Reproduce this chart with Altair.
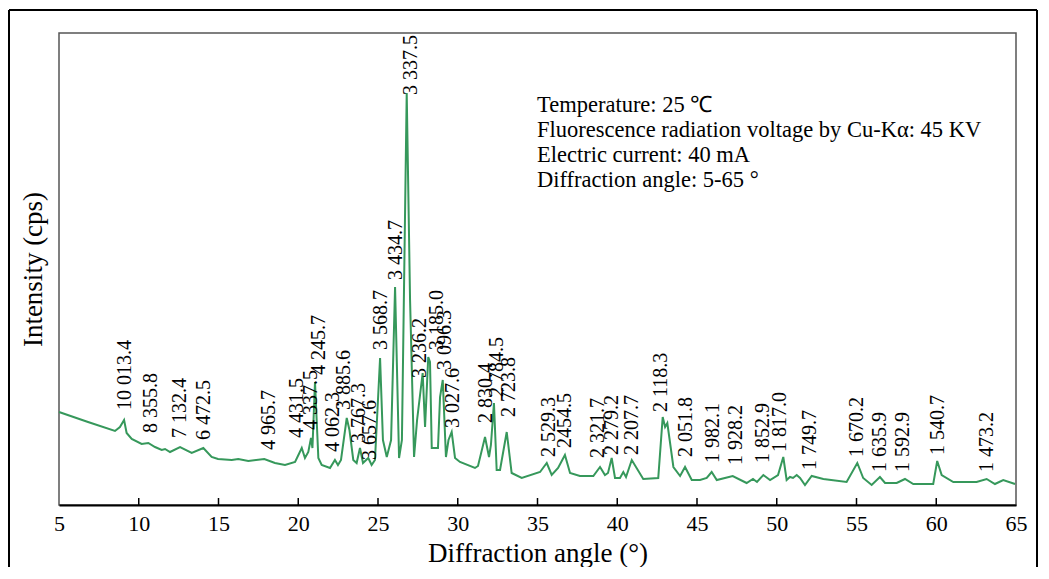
import altair as alt
import pandas as pd

# ---- XRD trace (diffraction angle in degrees, intensity in arbitrary cps units) ----
angle = [5.00, 6.82, 8.51, 8.82, 9.08, 9.24, 9.56, 10.18, 10.60, 11.02, 11.44, 11.65, 11.96,
         12.59, 13.32, 14.05, 14.57, 14.97, 15.83, 16.24, 16.87, 17.87, 18.54, 19.17, 19.80,
         20.22, 20.42, 20.63, 20.80, 20.89, 21.05, 21.26, 21.47, 21.99, 22.30, 22.49, 22.68,
         23.04, 23.21, 23.45, 23.66, 23.87, 24.06, 24.39, 24.60, 24.81, 25.13, 25.31, 25.55,
         25.82, 26.07, 26.32, 26.50, 26.80, 27.01, 27.26, 27.45, 27.80, 27.95, 28.15, 28.26,
         28.37, 28.76, 28.89, 29.06, 29.26, 29.42, 29.62, 29.83, 30.14, 31.08, 31.27, 31.71,
         31.96, 32.08, 32.27, 32.44, 32.65, 33.07, 33.38, 34.01, 35.16, 35.58, 35.89, 36.29,
         36.72, 37.04, 37.66, 38.50, 38.92, 39.23, 39.42, 39.65, 39.86, 40.17, 40.38, 40.55,
         40.91, 41.63, 42.57, 42.85, 43.00, 43.14, 43.52, 43.94, 44.25, 44.67, 45.19, 45.61,
         45.92, 46.24, 47.24, 48.11, 48.51, 48.76, 49.16, 49.58, 50.08, 50.41, 50.62, 50.83,
         51.02, 51.25, 51.46, 51.77, 52.19, 52.92, 54.38, 55.05, 55.42, 55.95, 56.47, 56.79,
         57.52, 58.04, 58.56, 59.81, 60.06, 60.34, 61.07, 62.53, 63.16, 63.68, 64.20, 64.94]
intensity = [93, 83, 74, 78, 85, 72, 66, 61, 62, 58, 55, 56, 53,
             58, 52, 57, 48, 46, 45, 46, 44, 46, 42, 40, 43,
             57, 47, 53, 67, 57, 123, 47, 40, 37, 45, 40, 45,
             87, 75, 45, 42, 57, 42, 47, 40, 45, 147, 65, 48,
             65, 218, 47, 65, 412, 205, 48, 85, 132, 78, 148, 143,
             57, 57, 108, 125, 48, 65, 73, 47, 43, 37, 39, 68,
             48, 60, 102, 35, 35, 73, 32, 27, 33, 42, 30, 37,
             50, 32, 29, 29, 38, 30, 32, 47, 27, 27, 33, 28,
             45, 26, 27, 88, 78, 82, 38, 29, 38, 25, 25, 27,
             33, 25, 29, 22, 26, 23, 30, 25, 30, 48, 25, 28,
             27, 30, 27, 20, 29, 26, 23, 42, 27, 20, 28, 22,
             22, 26, 21, 21, 44, 30, 23, 23, 26, 21, 25, 21]

# ---- peak d-spacing labels and where each label starts ----
peak_text = ["10 013.4", "8 355.8", "7 132.4", "6 472.5", "4 965.7", "4 431.5", "4 337.5",
             "4 245.7", "4 062.3", "3 885.6", "3 767.3", "3 657.6", "3 568.7", "3 434.7",
             "3 337.5", "3 236.2", "3 185.0", "3 096.3", "3 027.6", "2 830.4", "2 784.5",
             "2 723.8", "2 529.3", "2454.5", "2 321.7", "2 279.2", "2 207.7", "2 118.3",
             "2 051.8", "1 982.1", "1 928.2", "1 852.9", "1 817.0", "1 749.7", "1 670.2",
             "1 635.9", "1 592.9", "1 540.7", "1 473.2"]
peak_x = [9.14, 10.77, 12.59, 14.09, 18.17, 19.92, 20.80,
          21.30, 22.18, 22.87, 23.81, 24.50, 25.19, 26.13,
          27.07, 27.63, 28.70, 29.20, 29.70, 31.77, 32.46,
          33.21, 35.72, 36.72, 38.79, 39.67, 40.92, 42.74,
          44.31, 46.00, 47.45, 49.14, 50.20, 52.08, 55.03,
          56.47, 57.92, 60.11, 63.18]
peak_y = [95, 72, 67, 65, 55, 67, 75,
          130, 53, 95, 62, 45, 155, 225,
          410, 127, 155, 135, 77, 82, 108,
          88, 48, 57, 47, 50, 50, 93,
          48, 42, 40, 42, 53, 35, 48,
          33, 33, 50, 33]

tick_vals = [10, 15, 20, 25, 30, 35, 40, 45, 50, 55, 60]
axis_vals = [5, 10, 15, 20, 25, 30, 35, 40, 45, 50, 55, 60, 65]

info_lines = ["Temperature: 25 \u2103",
              "Fluorescence radiation voltage by Cu-K\u03b1: 45 KV",
              "Electric current: 40 mA",
              "Diffraction angle: 5-65 \u00b0"]

FONT = "Liberation Serif"
W, H = 957, 472

curve_df = pd.DataFrame({"angle": angle, "intensity": intensity})
peaks_df = pd.DataFrame({"t": peak_text, "px": peak_x, "py": peak_y})
ticks_df = pd.DataFrame({"v": tick_vals})
info_df = pd.DataFrame({"t": ["\n".join(info_lines)]})

xs = alt.Scale(domain=[5, 65], nice=False, zero=False)
ys = alt.Scale(domain=[0, 472], nice=False)

curve = alt.Chart(curve_df).mark_line(color="#36985b", strokeWidth=2).encode(
    x=alt.X("angle:Q", scale=xs,
            axis=alt.Axis(values=axis_vals, title="Diffraction angle (°)", grid=False,
                          ticks=False, domainColor="black", domainWidth=2,
                          labelFont=FONT, labelFontSize=22, labelColor="black",
                          labelPadding=8, labelFlush=False,
                          titleFont=FONT, titleFontSize=27, titleFontWeight="normal",
                          titleColor="black", titlePadding=6)),
    y=alt.Y("intensity:Q", scale=ys,
            axis=alt.Axis(title="Intensity (cps)", labels=False, ticks=False, domain=False,
                          grid=False, titleFont=FONT, titleFontSize=27,
                          titleFontWeight="normal", titleColor="black", titlePadding=12)),
)

ticks = alt.Chart(ticks_df).mark_rule(color="black", strokeWidth=1.5).encode(
    x=alt.X("v:Q", scale=xs), y=alt.value(H), y2=alt.value(H - 7))

labels = alt.Chart(peaks_df).mark_text(angle=270, align="left", baseline="middle",
                                       font=FONT, fontSize=20, color="black").encode(
    x=alt.X("px:Q", scale=xs), y=alt.Y("py:Q", scale=ys), text="t:N")

info = alt.Chart(info_df).mark_text(align="left", baseline="middle", lineBreak="\n",
                                    lineHeight=25, font=FONT, fontSize=22.5,
                                    color="black").encode(
    x=alt.value(478), y=alt.value(72), text="t:N")

frame_left = alt.Chart(ticks_df).mark_rule(color="black", strokeWidth=1.5).encode(
    x=alt.value(-50), y=alt.value(-23), y2=alt.value(H + 62))
frame_top = alt.Chart(ticks_df).mark_rule(color="black", strokeWidth=1.5).encode(
    x=alt.value(-50), x2=alt.value(W + 21), y=alt.value(-23))
frame_right = alt.Chart(ticks_df).mark_rule(color="black", strokeWidth=1.5).encode(
    x=alt.value(W + 21), y=alt.value(-23), y2=alt.value(H + 62))

chart = alt.layer(frame_left, frame_top, frame_right, curve, ticks, labels, info).properties(
    width=W, height=H,
    autosize=alt.AutoSizeParams(type="none"),
    padding={"left": 51, "top": 25, "right": 22, "bottom": 62},
    background="white",
).configure_view(stroke="#555555", strokeWidth=1.5)

chart.save("out.html", embed_options={"renderer": "svg", "actions": False})
